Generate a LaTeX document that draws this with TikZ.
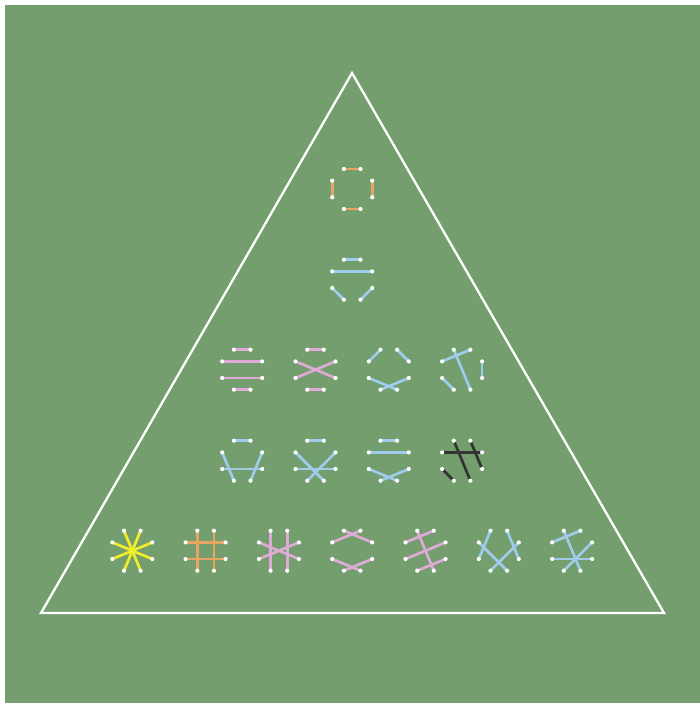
\documentclass[tikz,border=0pt]{standalone}
\begin{document}
\begin{tikzpicture}[x=1pt,y=-1pt,
  edge/.style={line width=2.7pt},
  dot/.style={fill=white},
  tri/.style={draw=white,line width=2.3pt,line join=miter}]
\definecolor{bg}{RGB}{116,158,110}
\definecolor{orangeE}{RGB}{232,164,100}
\definecolor{pinkE}{RGB}{222,170,214}
\definecolor{blueE}{RGB}{158,204,234}
\definecolor{yellowE}{RGB}{240,238,40}
\definecolor{darkE}{RGB}{52,52,52}
\useasboundingbox (0,0) rectangle (700,703);
\fill[white] (0,0) rectangle (700,703);
\fill[bg] (5,5) rectangle (700,703);
\coordinate (A) at (352,73);
\coordinate (B) at (41,613);
\coordinate (C) at (664,613);
\draw[tri] (A) -- (B) -- (C) -- cycle;
\newcommand{\matching}[5]{%
  \begin{scope}[shift={(#2,#3)}]
    \coordinate (#1-1) at (-8.3,-20);
    \coordinate (#1-2) at (8.3,-20);
    \coordinate (#1-3) at (20,-8.3);
    \coordinate (#1-4) at (20,8.3);
    \coordinate (#1-5) at (8.3,20);
    \coordinate (#1-6) at (-8.3,20);
    \coordinate (#1-7) at (-20,8.3);
    \coordinate (#1-8) at (-20,-8.3);
  \end{scope}
  \foreach \a/\b in {#5} \draw[edge,draw=#4] (#1-\a) -- (#1-\b);
  \foreach \i in {1,...,8} \fill[dot] (#1-\i) circle (2.1);
}
\matching{pa}{352.2}{189}{orangeE}{1/2,3/4,5/6,7/8}
\matching{pb}{352.2}{279.7}{blueE}{1/2,8/3,7/6,4/5}
\matching{qa}{242.2}{369.7}{pinkE}{1/2,8/3,7/4,6/5}
\matching{qb}{315.5}{369.7}{pinkE}{1/2,8/4,7/3,6/5}
\matching{qc}{388.8}{369.7}{blueE}{8/1,2/3,7/5,4/6}
\matching{qd}{462.1}{369.7}{blueE}{8/2,1/5,3/4,7/6}
\matching{ra}{242.2}{460.7}{blueE}{1/2,8/6,3/5,7/4}
\matching{rb}{315.5}{460.7}{blueE}{1/2,8/5,3/6,7/4}
\matching{rc}{388.8}{460.7}{blueE}{1/2,8/3,7/5,4/6}
\matching{rd}{462.1}{460.7}{darkE}{8/3,1/5,2/4,7/6}
\matching{sa}{132.3}{550.7}{yellowE}{1/5,2/6,3/7,4/8}
\matching{sb}{205.6}{550.7}{orangeE}{1/6,2/5,8/3,7/4}
\matching{sc}{278.9}{550.7}{pinkE}{1/6,2/5,8/4,7/3}
\matching{sd}{352.2}{550.7}{pinkE}{8/2,1/3,7/5,6/4}
\matching{se}{425.5}{550.7}{pinkE}{8/2,7/3,6/4,1/5}
\matching{sf}{498.8}{550.7}{blueE}{8/5,3/6,1/7,2/4}
\matching{sg}{572.1}{550.7}{blueE}{8/2,1/5,7/4,3/6}
\end{tikzpicture}
\end{document}
